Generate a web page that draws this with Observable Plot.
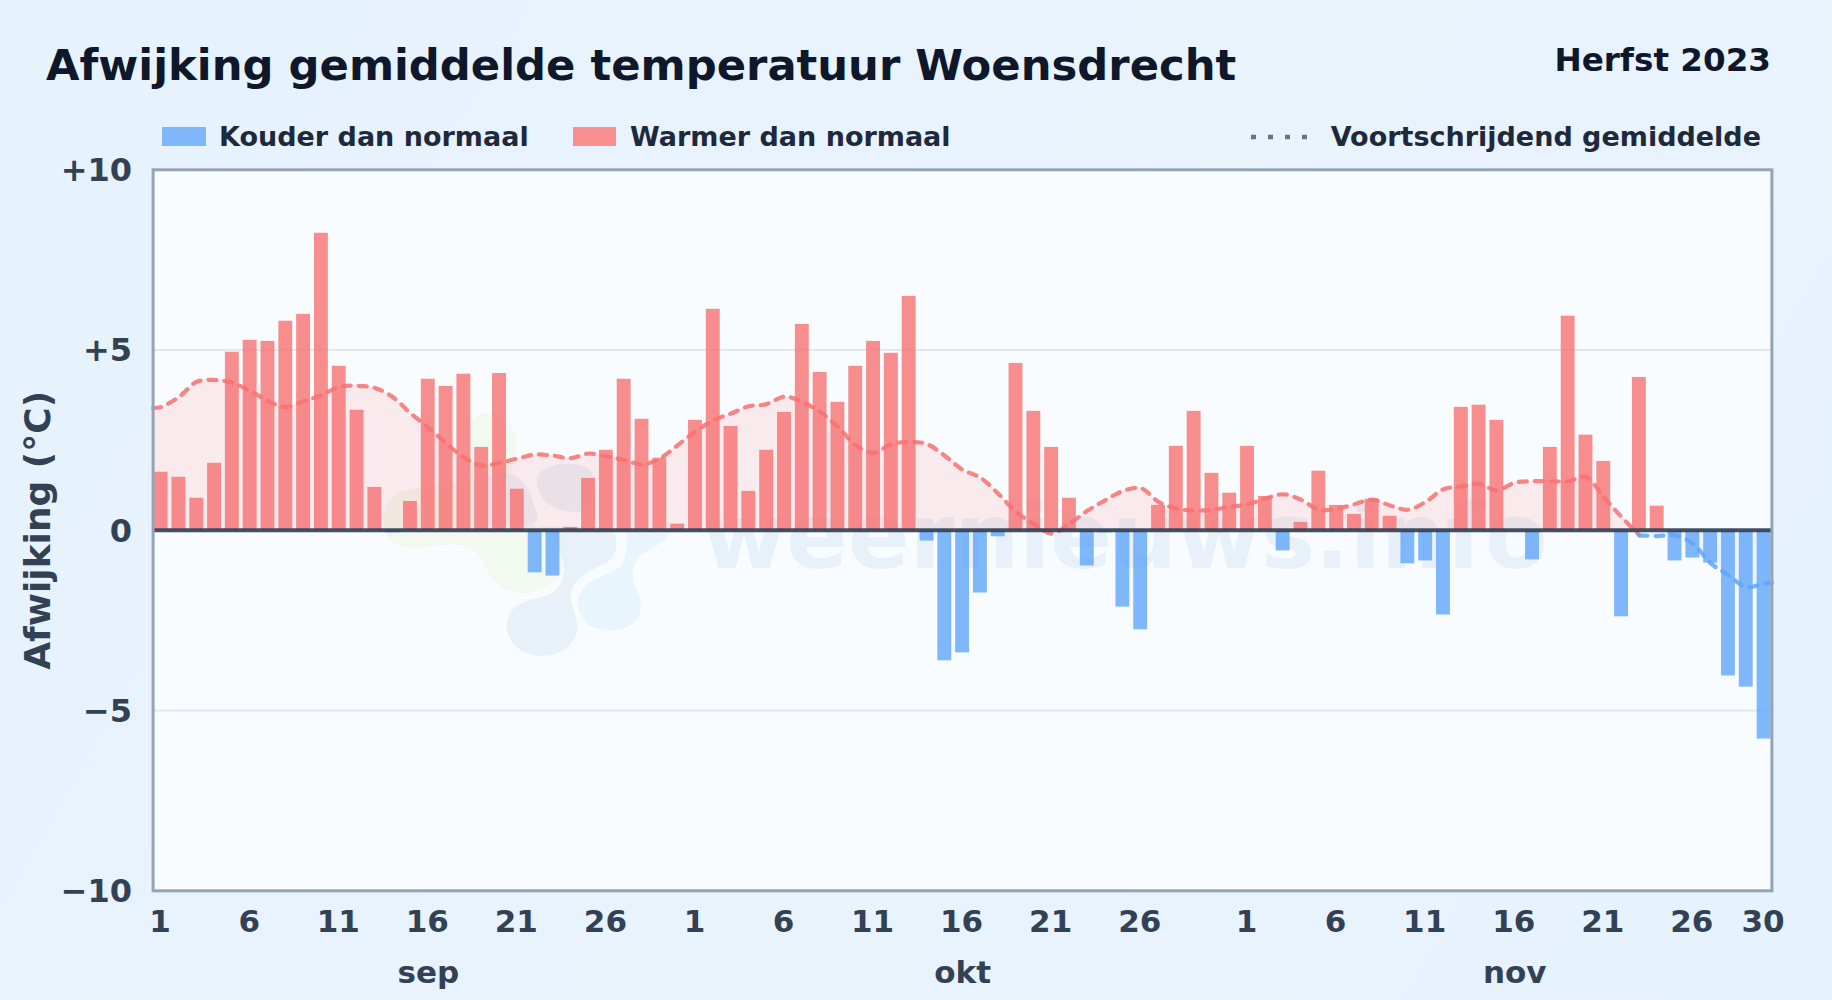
<!DOCTYPE html>
<html lang="nl">
<head>
<meta charset="utf-8">
<title>Afwijking gemiddelde temperatuur Woensdrecht</title>
<script src="https://cdn.jsdelivr.net/npm/d3@7"></script>
<script src="https://cdn.jsdelivr.net/npm/@observablehq/plot@0.6"></script>
<style>
  html,body{margin:0;padding:0;width:1832px;height:1000px;overflow:hidden;
    background:linear-gradient(120deg,#e6f2fc 0%,#e9f3fc 55%,#e6f2fc 100%);
    font-family:"DejaVu Sans",sans-serif;font-weight:bold;}
  #page{position:relative;width:1832px;height:1000px;}
  #head{position:relative;height:120px;}
  .t{position:absolute;line-height:1;white-space:nowrap;}
  .sw{position:absolute;top:127px;height:19px;}
  #panel{position:absolute;left:153px;top:169px;width:1619px;height:721px;background:#f8fcff;}
  #wm{position:absolute;left:0;top:0;}
  #chart{position:absolute;left:0;top:120px;}
</style>
</head>
<body>
<div id="page">
  <div id="panel"></div>
  <svg id="wm" width="1832" height="1000" aria-hidden="true">
    <g transform="translate(360 400) scale(0.3333)">
      <path fill="#f2f9ef" d="M75,390 C60,320 90,270 170,265 L330,240 C320,120 320,50 370,40 C440,40 475,90 470,150 C465,200 440,220 450,260 C470,330 500,370 560,400 C610,430 620,490 595,530 C560,565 520,580 480,580 C430,575 395,550 365,480 C340,430 300,425 170,445 C120,445 85,425 75,390 Z"/>
      <path fill="#e8f0f8" d="M440,670 C445,615 500,600 550,590 C600,575 625,530 605,470 C595,430 570,400 540,380 L750,380 C775,410 780,450 745,485 C700,510 650,520 632,580 C630,620 655,650 652,690 C640,745 590,768 545,768 C480,765 440,725 440,670 Z"/>
      <path fill="#e8f0f8" d="M530,240 C540,190 640,175 690,210 C710,240 700,300 660,335 C600,340 530,310 530,240 Z"/>
      <path fill="#e8f0f8" d="M340,240 L440,220 C490,230 510,270 520,310 C530,350 550,365 500,375 L340,380 Z"/>
      <path fill="#e9f5fd" d="M655,600 C660,560 700,535 750,520 C790,505 805,470 800,395 L930,390 C925,420 880,445 850,460 C820,480 810,520 825,560 C845,600 850,630 830,660 C800,700 720,700 680,670 C660,650 650,620 655,600 Z"/>
    </g>
    <text x="702" y="568" font-family="DejaVu Sans" font-weight="bold" font-size="91" fill="#e8f1fa">weernieuws.info</text>
  </svg>
  <div id="head">
    <div class="t" style="left:46px;top:44px;font-size:43.3px;color:#0f172a;">Afwijking gemiddelde temperatuur Woensdrecht</div>
    <div class="t" style="right:61px;top:44px;font-size:32.6px;color:#0f172a;">Herfst 2023</div>
    <div class="sw" style="left:162px;width:44px;background:#80b7fb;"></div>
    <div class="t" style="left:219px;top:123px;font-size:27px;color:#1e293b;">Kouder dan normaal</div>
    <div class="sw" style="left:573px;width:43px;background:#f98f90;"></div>
    <div class="t" style="left:630px;top:123px;font-size:27px;color:#1e293b;">Warmer dan normaal</div>
    <svg style="position:absolute;left:1251px;top:130px;" width="60" height="14" aria-hidden="true"><line x1="0" x2="60" y1="7" y2="7" stroke="#64748b" stroke-width="4.5" stroke-dasharray="5 12"/></svg>
    <div class="t" style="right:71px;top:123px;font-size:27px;color:#1e293b;">Voortschrijdend gemiddelde</div>
  </div>
  <div id="chart"></div>
</div>
<script>
// Daily anomaly, 1 Sep .. 30 Nov 2023 (°C)
const sepValues = [1.61,1.47,0.89,1.86,4.94,5.27,5.24,5.80,5.99,8.24,4.55,3.33,1.19,-0.07,0.80,4.19,3.99,4.33,2.30,4.35,1.14,-1.18,-1.27,0.08,1.44,2.22,4.19,3.08,2.00,0.17];
const oktValues = [3.05,6.13,2.88,1.08,2.22,3.27,5.71,4.38,3.55,4.55,5.24,4.91,6.49,-0.30,-3.62,-3.40,-1.74,-0.18,4.63,3.30,2.30,0.89,-0.99,-0.07,-2.13,-2.76,0.69,2.33,3.30,1.58,1.03];
const novValues = [2.33,0.94,-0.57,0.22,1.64,0.69,0.44,0.86,0.39,-0.93,-0.85,-2.35,3.41,3.47,3.05,0,-0.82,2.30,5.94,2.64,1.91,-2.40,4.24,0.67,-0.85,-0.77,-0.91,-4.04,-4.35,-5.79];
// Moving average per day
const movingAvg = [3.42,3.70,4.12,4.17,4.09,3.87,3.59,3.42,3.58,3.75,3.98,4.01,3.95,3.70,3.25,2.85,2.42,2.02,1.80,1.87,1.99,2.10,2.07,2.00,2.13,2.05,1.95,1.83,1.99,2.36,2.74,
  3.05,3.24,3.44,3.50,3.71,3.56,3.28,2.87,2.36,2.15,2.39,2.45,2.39,2.07,1.68,1.46,1.02,0.51,0.18,-0.09,0.18,0.54,0.83,1.09,1.17,0.79,0.60,0.55,0.57,0.65,
  0.72,0.88,1.00,0.85,0.57,0.60,0.72,0.85,0.69,0.57,0.79,1.14,1.22,1.29,1.11,1.32,1.36,1.36,1.36,1.48,0.92,0.37,-0.14,-0.16,-0.14,-0.37,-0.91,-1.25,-1.57,-1.48];
const avgAtLeftEdge = 3.39, avgAtRightEdge = -1.46;
const dayTicks = [0,5,10,15,20,25,30,35,40,45,50,55,61,66,71,76,81,86,90];
const dayLabels = ["1","6","11","16","21","26","1","6","11","16","21","26","1","6","11","16","21","26","30"];
const monthTicks = [15,45,76];
const monthLabels = ["sep","okt","nov"];
const yTicks = [-10,-5,0,5,10];
const yLabels = ["\u221210","\u22125","0","+5","+10"];

const anomalies = [...sepValues, ...oktValues, ...novValues];
const bars = anomalies.map((v,i)=>({i,v}));
const xLeft = -0.45, xRight = 90.44;
const avg = [{i:xLeft,v:avgAtLeftEdge}, ...movingAvg.map((v,i)=>({i,v})), {i:xRight,v:avgAtRightEdge}];
const warmAvg = avg.filter(d=>d.i<=83);
const coldAvg = avg.filter(d=>d.i>=83);
const RED="#f87171", BLUE="#60a5fa", barW=0.39;
const curve="catmull-rom";

const plot = Plot.plot({
  width:1832, height:880,
  marginTop:49.3, marginBottom:109.7, marginLeft:152.6, marginRight:60.6,
  style:{background:"transparent",fontFamily:"'DejaVu Sans',sans-serif",fontWeight:"bold",color:"#334155",overflow:"visible"},
  x:{type:"linear",domain:[xLeft,xRight]},
  y:{domain:[-10,10]},
  marks:[
    Plot.ruleY([-5,5],{stroke:"#e2e8f0",strokeWidth:2}),
    Plot.areaY(warmAvg,{x:"i",y1:0,y2:d=>Math.max(d.v,0),fill:RED,fillOpacity:0.13,curve}),
    Plot.areaY(coldAvg,{x:"i",y1:0,y2:d=>Math.min(d.v,0),fill:BLUE,fillOpacity:0.08,curve}),
    Plot.rectY(bars,{x1:d=>d.i-barW,x2:d=>d.i+barW,y1:0,y2:"v",fill:d=>d.v<0?BLUE:RED,fillOpacity:0.8}),
    Plot.lineY(warmAvg,{x:"i",y:"v",stroke:RED,strokeWidth:4.2,strokeDasharray:"8 8",strokeLinecap:"round",strokeOpacity:0.85,curve}),
    Plot.lineY(coldAvg,{x:"i",y:"v",stroke:BLUE,strokeWidth:4.2,strokeDasharray:"8 8",strokeLinecap:"round",strokeOpacity:0.85,curve}),
    Plot.ruleY([0],{stroke:"#334155",strokeWidth:4,strokeOpacity:0.92}),
    Plot.frame({stroke:"#94a3b8",strokeWidth:3}),
    Plot.axisY({ticks:yTicks,tickFormat:d=>yLabels[yTicks.indexOf(d)],tickSize:0,tickPadding:21,fontSize:32,dy:1,label:null}),
    Plot.axisX({ticks:dayTicks,tickFormat:d=>dayLabels[dayTicks.indexOf(d)],tickSize:0,tickPadding:19,fontSize:31,dx:-1,label:null,anchor:"bottom"}),
    Plot.axisX({ticks:monthTicks,tickFormat:d=>monthLabels[monthTicks.indexOf(d)],tickSize:0,tickPadding:70,fontSize:31,label:null,anchor:"bottom"}),
    Plot.text(["Afwijking (\u00b0C)"],{frameAnchor:"left",dx:-114.5,rotate:-90,textAnchor:"middle",fontSize:36,fill:"#334155"})
  ]
});
document.getElementById("chart").appendChild(plot);
</script>
</body>
</html>
